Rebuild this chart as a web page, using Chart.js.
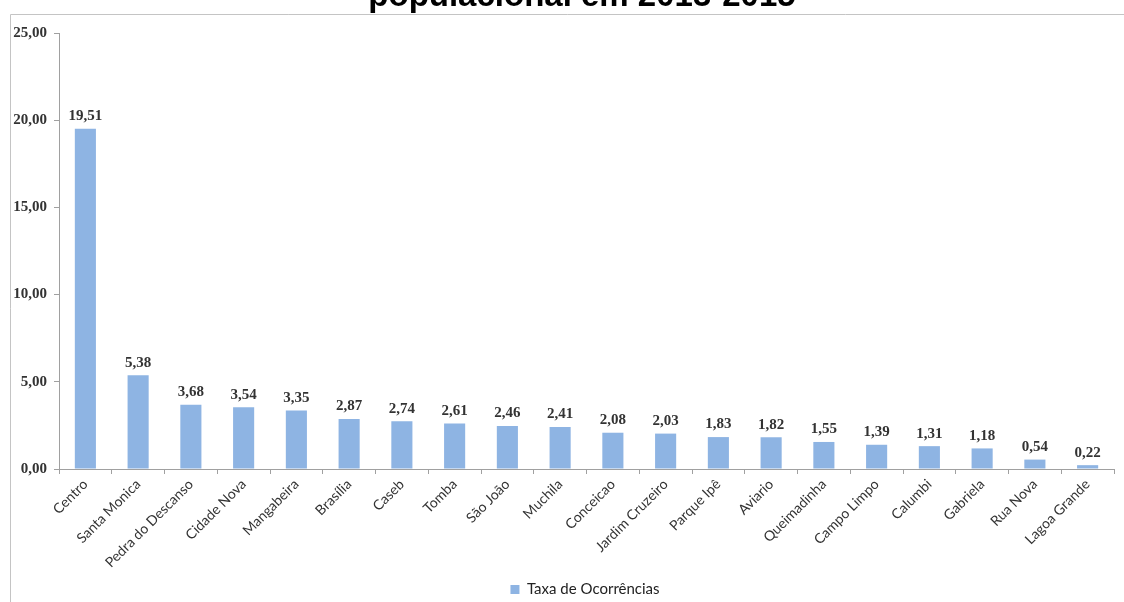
<!DOCTYPE html>
<html>
<head>
<meta charset="utf-8">
<script src="https://cdn.jsdelivr.net/npm/chart.js"></script>
<style>
  html, body { margin: 0; padding: 0; background: #fff; }
  #wrap { position: relative; width: 1124px; height: 602px; }
</style>
</head>
<body>
<div id="wrap"><canvas id="chart" width="1124" height="602"></canvas></div>
<script>
const bairros = ['Centro', 'Santa Monica', 'Pedra do Descanso', 'Cidade Nova', 'Mangabeira', 'Brasília',
  'Caseb', 'Tomba', 'São João', 'Muchila', 'Conceicao', 'Jardim Cruzeiro', 'Parque Ipê', 'Aviario',
  'Queimadinha', 'Campo Limpo', 'Calumbi', 'Gabriela', 'Rua Nova', 'Lagoa Grande'];
const taxas = [19.51, 5.38, 3.68, 3.54, 3.35, 2.87, 2.74, 2.61, 2.46, 2.41, 2.08, 2.03, 1.83, 1.82,
  1.55, 1.39, 1.31, 1.18, 0.54, 0.22];
const yTicks = [0, 5, 10, 15, 20, 25];
const serieNome = 'Taxa de Ocorrências';
const titulo = 'populacional em 2013-2015';

const fmt = v => v.toFixed(2).replace('.', ',');

// frame + clipped title, like the cropped Excel screenshot
const framePlugin = {
  id: 'frame',
  beforeDraw(chart) {
    const c = chart.ctx;
    c.save();
    c.strokeStyle = '#c4c4c4';
    c.lineWidth = 1;
    c.beginPath();
    c.moveTo(10.5, 602);
    c.lineTo(10.5, 14.5);
    c.lineTo(1124, 14.5);
    c.stroke();
    c.fillStyle = '#000';
    c.font = 'bold 33px "Liberation Sans", Arial, sans-serif';
    c.textAlign = 'center';
    c.textBaseline = 'alphabetic';
    c.fillText(titulo, 582, 6);
    c.restore();
  }
};

// legend in the original sits a bit right of centre and lower
const legendShift = {
  id: 'legendShift',
  afterLayout(chart) {
    const lg = chart.legend;
    if (!lg || lg._shifted) return;
    const orig = lg.draw.bind(lg);
    lg.draw = function () {
      chart.ctx.save();
      chart.ctx.translate(23, 5);
      orig();
      chart.ctx.restore();
    };
    lg._shifted = true;
  }
};

// value labels above each bar
const valueLabels = {
  id: 'valueLabels',
  afterDatasetsDraw(chart) {
    const c = chart.ctx;
    const meta = chart.getDatasetMeta(0);
    c.save();
    c.font = 'bold 15px "Liberation Serif", serif';
    c.fillStyle = '#333';
    c.textAlign = 'center';
    c.textBaseline = 'bottom';
    meta.data.forEach((bar, i) => {
      c.fillText(fmt(taxas[i]), bar.x, bar.y - 5);
    });
    c.restore();
  }
};

new Chart(document.getElementById('chart'), {
  type: 'bar',
  data: {
    labels: bairros,
    datasets: [{
      label: serieNome,
      data: taxas,
      backgroundColor: '#8eb4e3',
      borderWidth: 0,
      barPercentage: 0.4,
      categoryPercentage: 1
    }]
  },
  options: {
    responsive: false,
    animation: false,
    layout: { padding: { left: 10, top: 33, right: 10, bottom: 0 } },
    plugins: {
      legend: {
        position: 'bottom',
        labels: {
          boxWidth: 9,
          boxHeight: 9,
          padding: 2,
          color: '#222',
          font: { family: 'Lato', size: 15 }
        }
      },
      tooltip: { enabled: false }
    },
    scales: {
      x: {
        afterFit: s => { s.height = 106; },
        border: { color: '#a0a0a0' },
        grid: { drawOnChartArea: false, tickLength: 5, color: '#a0a0a0' },
        ticks: {
          maxRotation: 45, minRotation: 45,
          color: '#333',
          font: { family: 'Lato', size: 14 },
          padding: 2
        }
      },
      y: {
        min: 0, max: 25,
        afterFit: s => { s.width = 49; },
        afterBuildTicks: s => { s.ticks = yTicks.map(v => ({ value: v })); },
        border: { color: '#a0a0a0' },
        grid: { drawOnChartArea: false, tickLength: 5, color: '#a0a0a0' },
        ticks: {
          callback: v => fmt(v),
          color: '#333',
          padding: 7,
          font: { family: '"Liberation Serif", serif', size: 15, weight: 'bold' }
        }
      }
    }
  },
  plugins: [framePlugin, legendShift, valueLabels]
});
</script>
</body>
</html>
